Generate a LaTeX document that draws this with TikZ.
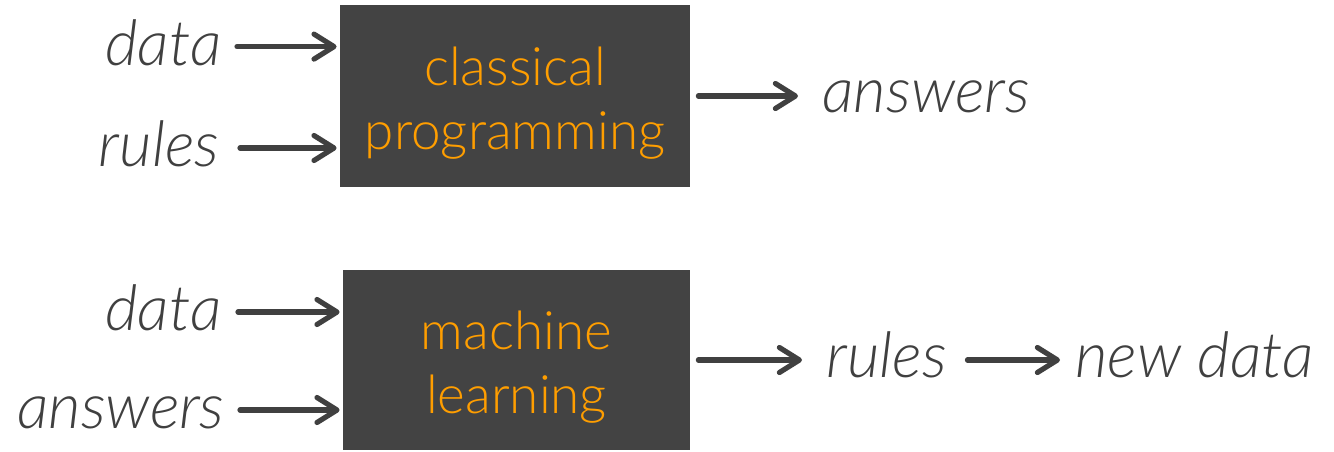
\documentclass[tikz,border=0pt]{standalone}
\usepackage{fontspec}
\setmainfont{Lato Light}[ItalicFont={Lato Light Italic}]
\usetikzlibrary{arrows.meta}
\definecolor{ink}{HTML}{404040}
\definecolor{boxfill}{HTML}{434343}
\definecolor{boxtext}{HTML}{FF9E00}
\tikzset{
  lbl/.style={text=ink, font=\fontsize{31.5pt}{34pt}\selectfont\itshape, inner sep=0pt},
  procbox/.style={fill=boxfill, draw=none, inner sep=0pt},
  proctext/.style={text=boxtext, align=center, inner sep=0pt,
    font=\fontsize{26.5pt}{32pt}\selectfont},
  arr/.style={draw=ink, line width=2.6pt, line cap=round,
    -{Straight Barb[length=10pt,width=12.5pt,round]}},
}
\begin{document}
\begin{tikzpicture}[x=0.5pt, y=-0.5pt]
\useasboundingbox (0,0) rectangle (1334,451);
% classical programming
\node[procbox, minimum width=175pt, minimum height=91pt] (cp) at (515,96) {};
\node[proctext] (cpt) at ([yshift=-3.75pt]cp.center) {classical\\programming};
\node[lbl, anchor=base east] (d1) at (222,65) {data};
\node[lbl, anchor=base east] (r1) at (220,166) {rules};
\node[lbl, anchor=base west] (a1) at (822,112) {answers};
\draw[arr] ([shift={(7.5pt,9.2pt)}]d1.base east) -- ([xshift=-1.5pt,yshift=9.2pt]d1.base east -| cp.west);
\draw[arr] ([shift={(10pt,9pt)}]r1.base east) -- ([xshift=-1.5pt,yshift=9pt]r1.base east -| cp.west);
\draw[arr] ([xshift=4pt]cp.east) -- ([xshift=-12pt]cp.east -| a1.west);
% machine learning
\node[procbox, minimum width=173.5pt, minimum height=90pt] (ml) at (516.5,360) {};
\node[proctext] (mlt) at ([yshift=-3.75pt]ml.center) {machine\\learning};
\node[lbl, anchor=base east] (d2) at (222,330) {data};
\node[lbl, anchor=base east] (a2) at (225,428) {answers};
\node[lbl, anchor=base west] (r2) at (826,377) {rules};
\node[lbl, anchor=base west] (n2) at (1075,377) {new data};
\draw[arr] ([shift={(8pt,9pt)}]d2.base east) -- ([xshift=-1.5pt,yshift=9pt]d2.base east -| ml.west);
\draw[arr] ([shift={(7.5pt,9pt)}]a2.base east) -- ([xshift=-1.5pt,yshift=9pt]a2.base east -| ml.west);
\draw[arr] ([xshift=4pt]ml.east) -- ([xshift=-12pt]ml.east -| r2.west);
\draw[arr] ([shift={(10pt,8.5pt)}]r2.base east) -- ([xshift=-7.5pt,yshift=8.5pt]r2.base east -| n2.west);
\end{tikzpicture}
\end{document}
